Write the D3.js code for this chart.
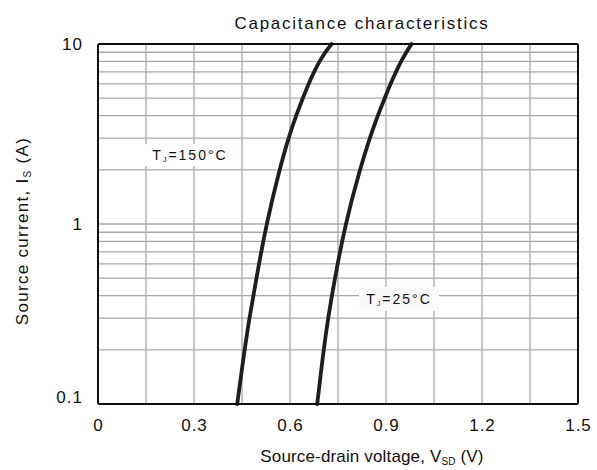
<!DOCTYPE html>
<html><head><meta charset="utf-8">
<script src="https://cdn.jsdelivr.net/npm/d3@7"></script>
<style>body{margin:0;background:#fff}svg{display:block}text{font-family:"Liberation Sans",Arial,sans-serif;fill:#111}</style>
</head><body>
<script>
const currents = [0.1, 0.2, 0.3, 0.5, 1, 2, 3, 4, 5, 6, 7, 8, 9, 10];
const voltage150 = [0.435, 0.458, 0.473, 0.495, 0.526, 0.567, 0.595, 0.619, 0.640, 0.658, 0.675, 0.692, 0.710, 0.730];
const voltage25 = [0.685, 0.705, 0.719, 0.740, 0.773, 0.818, 0.849, 0.874, 0.896, 0.914, 0.931, 0.947, 0.963, 0.980];
const xTicks = [0, 0.3, 0.6, 0.9, 1.2, 1.5];
const xGrid = [0.15, 0.3, 0.45, 0.6, 0.75, 0.9, 1.05, 1.2, 1.35];
const yTicks = [0.1, 1, 10];
const yTickLabels = ["0.1", "1", "10"];
const yGrid = [0.2,0.3,0.4,0.5,0.6,0.7,0.8,0.9,1,2,3,4,5,6,7,8,9];

const W = 597, H = 470;
const svg = d3.select("body").append("svg").attr("width", W).attr("height", H);
const x = d3.scaleLinear().domain([0, 1.5]).range([98, 578]);
const y = d3.scaleLog().domain([0.1, 10]).range([404, 44]);

// grid
svg.append("g").selectAll("line").data(xGrid).join("line")
  .attr("x1", d => x(d)).attr("x2", d => x(d)).attr("y1", y(10)).attr("y2", y(0.1))
  .attr("stroke", "#a8a8a8").attr("stroke-width", 1.3);
svg.append("g").selectAll("line").data(yGrid).join("line")
  .attr("x1", x(0)).attr("x2", x(1.5)).attr("y1", d => y(d)).attr("y2", d => y(d))
  .attr("stroke", "#a8a8a8").attr("stroke-width", 1.3);

// curves
const line = d3.line().x(d => x(d[0])).y(d => y(d[1])).curve(d3.curveBasis);
[voltage150, voltage25].forEach(v => {
  svg.append("path").datum(v.map((vv, i) => [vv, currents[i]]))
    .attr("d", line).attr("fill", "none").attr("stroke", "#1e1e1e")
    .attr("stroke-width", 3.8).attr("stroke-linecap", "round");
});

// frame
svg.append("rect").attr("x", x(0)).attr("y", y(10)).attr("width", x(1.5) - x(0)).attr("height", y(0.1) - y(10))
  .attr("fill", "none").attr("stroke", "#111").attr("stroke-width", 2).attr("rx", 1.5);

// axes tick labels
const xAxis = d3.axisBottom(x).tickValues(xTicks).tickSize(0).tickFormat(d => d === 0 ? "0" : d3.format(".1f")(d));
const gx = svg.append("g").attr("transform", `translate(0,${y(0.1)})`).call(xAxis);
gx.select(".domain").remove();
gx.selectAll("text").attr("dy", null).attr("y", 27).attr("font-size", 17).attr("letter-spacing", 1)
  .attr("font-family", '"Liberation Sans",Arial,sans-serif').attr("fill", "#111");

const yAxis = d3.axisLeft(y).tickValues(yTicks).tickSize(0).tickFormat((d, i) => yTickLabels[i]);
const gy = svg.append("g").attr("transform", `translate(${x(0)},0)`).call(yAxis);
gy.select(".domain").remove();
gy.selectAll("text").attr("x", -15).attr("dy", "0.3em").attr("font-size", 17).attr("letter-spacing", 1)
  .attr("font-family", '"Liberation Sans",Arial,sans-serif').attr("fill", "#111");
gy.selectAll(".tick").filter(d => d === 0.1).select("text").attr("dy", "-0.1em");

// title
svg.append("text").attr("x", 362).attr("y", 29).attr("text-anchor", "middle")
  .attr("font-size", 17).attr("letter-spacing", 1.75).text("Capacitance characteristics");

// x axis title
const xt = svg.append("text").attr("x", 372).attr("y", 462).attr("text-anchor", "middle")
  .attr("font-size", 17).attr("letter-spacing", 0.15);
xt.append("tspan").text("Source-drain voltage, V");
xt.append("tspan").attr("font-size", 10).attr("dy", 3).text("SD");
xt.append("tspan").attr("dy", -3).text(" (V)");

// y axis title
const yt = svg.append("text").attr("transform", "translate(28,231) rotate(-90)").attr("text-anchor", "middle")
  .attr("font-size", 17).attr("letter-spacing", 1.3);
yt.append("tspan").text("Source current, I");
yt.append("tspan").attr("font-size", 10).attr("dy", 3).text("S");
yt.append("tspan").attr("dy", -3).text(" (A)");

// annotations
function label(cx, cy, bw, bh, temp, fill) {
  svg.append("rect").attr("x", cx - bw / 2).attr("y", cy - bh / 2).attr("width", bw).attr("height", bh).attr("fill", fill);
  const t = svg.append("text").attr("x", cx).attr("y", cy + 5).attr("text-anchor", "middle")
    .attr("font-size", 14).attr("letter-spacing", 2);
  t.append("tspan").text("T");
  t.append("tspan").attr("font-size", 7).attr("dy", 2).text("J");
  t.append("tspan").attr("dy", -2).text("=" + temp + "°C");
}
label(190, 155, 94, 22, "150", "#ffffff");
label(399, 299, 80, 24, "25", "#fafafa");
</script>
</body></html>
